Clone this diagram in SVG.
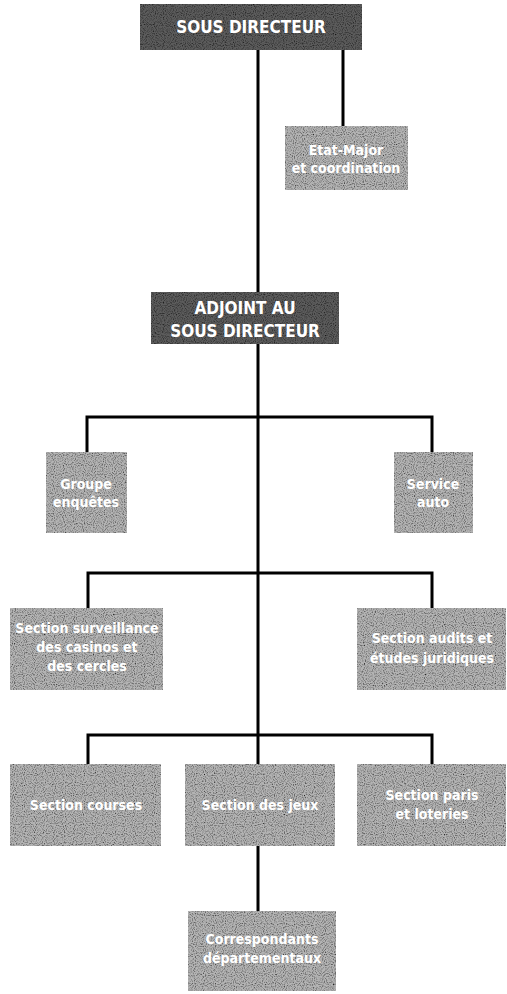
<svg xmlns="http://www.w3.org/2000/svg" width="507" height="994" viewBox="0 0 507 994">
  <style>
    .box { fill: #b4b4b4; filter: url(#grain); }
    .dark { fill: #5c5c5c; filter: url(#grain); }
    .lbl { font-family: "DejaVu Sans Condensed", "Liberation Sans", sans-serif; font-weight: bold; fill: #ffffff; text-anchor: middle; font-size: 14px; }
    .head { font-family: "DejaVu Sans Condensed", "Liberation Sans", sans-serif; font-weight: bold; fill: #ffffff; text-anchor: middle; font-size: 17px; }
    .wire { fill: none; stroke: #000000; stroke-width: 3; }
  </style>
  <defs>
    <!-- speckled print texture for the boxes -->
    <filter id="grain" x="0" y="0" width="100%" height="100%">
      <feTurbulence type="fractalNoise" baseFrequency="0.9" numOctaves="1" seed="3" result="n"/>
      <feColorMatrix in="n" type="matrix" values="0 0 0 0 0  0 0 0 0 0  0 0 0 0 0  0 0 0 -2.4 1.35" result="spots"/>
      <feComposite in="spots" in2="SourceGraphic" operator="in" result="dots"/>
      <feMerge><feMergeNode in="SourceGraphic"/><feMergeNode in="dots"/></feMerge>
    </filter>
  </defs>

  <rect width="507" height="994" fill="#ffffff"/>

  <g id="connectors">
    <path class="wire" d="M258 50 V912"/>
    <path class="wire" d="M343 50 V127"/>
    <path class="wire" d="M87 452 V417 H432 V452"/>
    <path class="wire" d="M88 608 V573 H432 V608"/>
    <path class="wire" d="M88 764 V735 H432 V764"/>
  </g>

  <g id="sous-directeur">
    <rect class="dark" x="140" y="4" width="222" height="46"/>
    <text class="head" x="251" y="33">SOUS DIRECTEUR</text>
  </g>

  <g id="etat-major">
    <rect class="box" x="285" y="126" width="123" height="64"/>
    <text class="lbl" x="346" y="155">Etat-Major</text>
    <text class="lbl" x="346" y="173">et coordination</text>
  </g>

  <g id="adjoint">
    <rect class="dark" x="151" y="292" width="188" height="52"/>
    <text class="head" x="245" y="314">ADJOINT AU</text>
    <text class="head" x="245" y="337">SOUS DIRECTEUR</text>
  </g>

  <g id="groupe-enquetes">
    <rect class="box" x="46" y="452" width="81" height="81"/>
    <text class="lbl" x="86" y="489">Groupe</text>
    <text class="lbl" x="86" y="507">enquêtes</text>
  </g>

  <g id="service-auto">
    <rect class="box" x="394" y="452" width="79" height="81"/>
    <text class="lbl" x="433" y="489">Service</text>
    <text class="lbl" x="433" y="507">auto</text>
  </g>

  <g id="section-surveillance">
    <rect class="box" x="10" y="608" width="153" height="82"/>
    <text class="lbl" x="87" y="633">Section surveillance</text>
    <text class="lbl" x="87" y="652">des casinos et</text>
    <text class="lbl" x="87" y="671">des cercles</text>
  </g>

  <g id="section-audits">
    <rect class="box" x="357" y="608" width="149" height="82"/>
    <text class="lbl" x="432" y="643">Section audits et</text>
    <text class="lbl" x="432" y="663">études juridiques</text>
  </g>

  <g id="section-courses">
    <rect class="box" x="10" y="764" width="151" height="82"/>
    <text class="lbl" x="86" y="810">Section courses</text>
  </g>

  <g id="section-jeux">
    <rect class="box" x="185" y="764" width="150" height="82"/>
    <text class="lbl" x="260" y="810">Section des jeux</text>
  </g>

  <g id="section-paris">
    <rect class="box" x="357" y="764" width="149" height="82"/>
    <text class="lbl" x="432" y="800">Section paris</text>
    <text class="lbl" x="432" y="819">et loteries</text>
  </g>

  <g id="correspondants">
    <rect class="box" x="188" y="911" width="148" height="80"/>
    <text class="lbl" x="262" y="944">Correspondants</text>
    <text class="lbl" x="262" y="963">départementaux</text>
  </g>
</svg>
